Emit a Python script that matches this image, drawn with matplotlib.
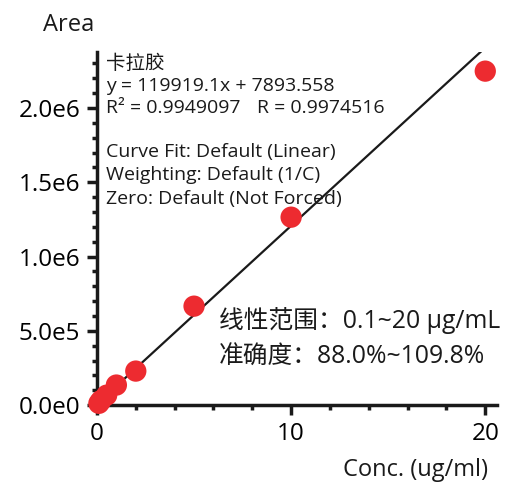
import matplotlib
matplotlib.use('Agg')
import matplotlib.pyplot as plt
from matplotlib.ticker import FuncFormatter, MultipleLocator
import numpy as np

plt.rcParams['font.family'] = ['Open Sans', 'Noto Sans CJK SC', 'DejaVu Sans']

# 标准曲线数据
conc = [0.1, 0.2, 0.5, 1.0, 2.0, 5.0, 10.0, 20.0]
area = [12000, 30000, 67000, 135000, 229000, 666000, 1265000, 2248000]
slope = 119919.1
intercept = 7893.558

info_lines = ['卡拉胶',
              'y = 119919.1x + 7893.558',
              'R² = 0.9949097',
              'Curve Fit: Default (Linear)',
              'Weighting: Default (1/C)',
              'Zero: Default (Not Forced)']
r_text = 'R = 0.9974516'
note_lines = ['线性范围：0.1~20 μg/mL', '准确度：88.0%~109.8%']

fig = plt.figure(figsize=(5.05, 4.84), dpi=100)
ax = fig.add_axes([0.192, 0.163, 0.792, 0.729])

# 拟合直线
xs = np.array([0, 20.6])
ax.plot(xs, slope * xs + intercept, color='#1a1a1a', linewidth=1.6, zorder=2)
# 数据点
ax.scatter(conc, area, s=235, color='#ED2B30', edgecolors='none', zorder=3, clip_on=False)

ax.set_xlim(0, 20.6)
ax.set_ylim(0, 2.375e6)

for side in ['top', 'right']:
    ax.spines[side].set_visible(False)
for side in ['left', 'bottom']:
    ax.spines[side].set_linewidth(2.5)
    ax.spines[side].set_color('#1a1a1a')

ax.xaxis.set_major_locator(MultipleLocator(10))
ax.xaxis.set_minor_locator(MultipleLocator(2))
ax.yaxis.set_major_locator(MultipleLocator(5e5))
ax.yaxis.set_minor_locator(MultipleLocator(1e5))


def sci(v, pos):
    if v == 0:
        return '0.0e0'
    e = int(np.floor(np.log10(abs(v))))
    return '%.1fe%d' % (v / 10 ** e, e)


ax.yaxis.set_major_formatter(FuncFormatter(sci))
ax.tick_params(which='major', length=7, width=2.5, labelsize=17.5, color='#1a1a1a', pad=5)
ax.tick_params(which='minor', length=3.5, width=2.5, color='#1a1a1a')

# 注释文字
ys = [0.966, 0.904, 0.841, 0.717, 0.652, 0.584]
for t, y in zip(info_lines, ys):
    ax.text(0.0225, y, t, transform=ax.transAxes, fontsize=14, va='center', ha='left', color='#1a1a1a')
ax.text(0.40, 0.841, r_text, transform=ax.transAxes, fontsize=14, va='center', ha='left', color='#1a1a1a')
for t, y in zip(note_lines, [0.241, 0.136]):
    ax.text(0.305, y, t, transform=ax.transAxes, fontsize=17.8, va='center', ha='left', color='#1a1a1a')

fig.text(69 / 505, 1 - 25 / 484, 'Area', fontsize=17, ha='center', va='center', color='#1a1a1a')
fig.text(488 / 505, 1 - 470 / 484, 'Conc. (ug/ml)', fontsize=17, ha='right', va='center', color='#1a1a1a')

fig.savefig('out.png', dpi=100)
